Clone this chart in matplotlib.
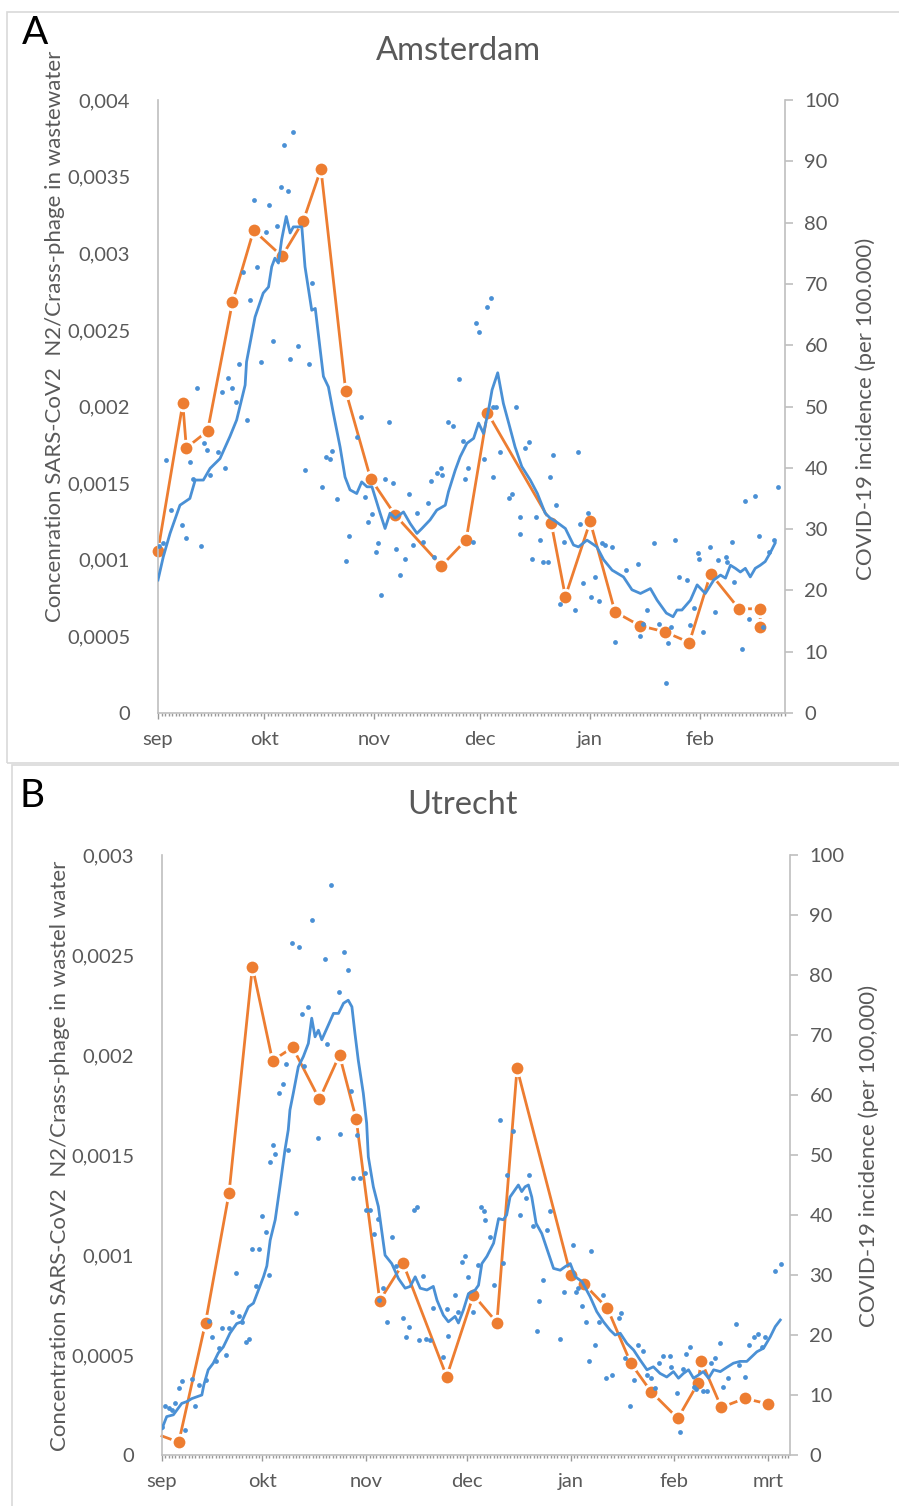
import matplotlib
matplotlib.use("Agg")
import matplotlib.pyplot as plt
from matplotlib.ticker import FuncFormatter, FixedLocator, MultipleLocator
from matplotlib.patches import Rectangle

plt.rcParams['font.family'] = ['Lato', 'DejaVu Sans']

# month starts (days since 1 sep)
month_pos = [0, 30, 61, 91, 122, 153, 181]
month_lab = ['sep', 'okt', 'nov', 'dec', 'jan', 'feb', 'mrt']

# ---- Amsterdam ----
ams_ww_day = [0, 7, 8, 14, 21, 27, 35, 41, 46, 53, 60, 67, 80, 87, 93, 111, 115,
              122, 129, 136, 143, 150, 156, 164, 170, 170]
ams_ww = [0.00106, 0.00202, 0.00173, 0.00184, 0.00268, 0.00315, 0.00298, 0.00321,
          0.00355, 0.00210, 0.00153, 0.00129, 0.00096, 0.00113, 0.00196, 0.00124,
          0.00076, 0.00125, 0.00066, 0.00057, 0.00053, 0.00046, 0.00091, 0.00068,
          0.00068, 0.00056]

ams_day = [0.3, 1.4, 2.2, 3.6, 6.7, 7.9, 9.0, 10.0, 11.1, 12.2, 13.0, 13.8, 14.7,
           16.9, 18.0, 19.0, 19.9, 21.0, 22.0, 23.0, 24.0, 25.0, 26.0, 27.0, 28.0,
           29.0, 30.4, 31.4, 32.6, 33.5, 34.7, 35.7, 36.8, 37.3, 38.2, 39.5, 41.6,
           42.7, 43.6, 46.2, 47.4, 48.6, 49.2, 50.5, 53.0, 54.0, 56.3, 57.3, 58.5,
           59.4, 60.4, 61.5, 62.0, 63.0, 64.0, 65.1, 66.2, 67.1, 68.4, 69.8, 70.9,
           71.9, 73.1, 74.9, 76.1, 77.1, 77.8, 78.7, 79.9, 80.1, 82.0, 83.4, 85.0,
           86.2, 86.7, 87.6, 88.9, 89.8, 90.7, 92.1, 92.8, 94.0, 94.5, 94.7, 95.5,
           96.6, 99.0, 100.0, 101.0, 102.1, 102.3, 103.5, 104.6, 105.6, 106.8,
           107.7, 108.7, 110.0, 110.7, 111.5, 112.4, 113.4, 114.5, 117.6, 118.6,
           119.2, 120.1, 121.3, 122.2, 123.4, 124.4, 125.3, 126.3, 128.2, 129.1,
           132.1, 135.4, 136.0, 136.9, 138.0, 140.1, 141.3, 143.3, 144.0, 144.9,
           146.0, 147.0, 149.2, 150.1, 151.2, 152.3, 152.6, 153.9, 155.9, 157.1,
           158.1, 160.3, 160.6, 161.9, 162.7, 164.9, 165.8, 166.9, 168.4, 169.6,
           170.7, 172.4, 173.8, 174.9]
ams_inc = [27.3, 27.7, 41.2, 33.1, 30.7, 28.5, 40.9, 38.2, 53.0, 27.3, 44.0, 42.9,
           38.9, 42.6, 52.3, 39.9, 54.6, 53.0, 50.8, 56.9, 71.9, 47.8, 67.4, 83.7,
           72.8, 57.2, 78.4, 82.8, 60.7, 79.4, 85.8, 92.7, 85.2, 57.7, 94.8, 59.9,
           39.6, 56.9, 70.1, 36.9, 41.8, 41.4, 42.7, 34.9, 24.8, 28.9, 45.1, 48.3,
           35.3, 31.2, 32.4, 26.2, 27.8, 19.2, 38.2, 47.5, 37.6, 26.7, 22.5, 25.2,
           35.8, 27.4, 32.7, 27.9, 34.3, 37.9, 25.5, 39.1, 40.0, 38.9, 47.5, 46.8,
           54.5, 44.4, 38.1, 39.9, 27.9, 63.6, 62.1, 41.4, 66.3, 67.7, 38.5, 50.0,
           50.0, 42.6, 35.0, 35.8, 50.0, 29.2, 31.9, 43.3, 44.2, 25.2, 31.9, 28.2,
           24.7, 24.7, 38.5, 42.1, 33.9, 17.8, 27.9, 16.8, 42.5, 30.9, 21.2, 32.7,
           18.9, 22.2, 18.3, 27.7, 27.4, 27.0, 11.6, 23.4, 24.3, 12.6, 14.6, 16.8,
           27.8, 14.6, 4.9, 11.4, 14.1, 28.2, 22.2, 21.7, 14.4, 17.1, 26.1, 25.2,
           13.2, 27.0, 16.5, 25.0, 25.5, 24.7, 27.9, 21.3, 10.4, 34.6, 15.3, 35.4,
           28.9, 14.1, 26.3, 28.3, 36.9]

ams_avg_day = [0, 1.5, 3.4, 6.2, 9.0, 10.5, 12.8, 14.7, 17.5, 20.3, 22.2, 24.6, 25.0,
               27.4, 29.7, 31.2, 32.1, 33.0, 34.0, 34.9, 36.2, 37.3, 38.2, 40.6,
               41.5, 43.4, 44.4, 45.8, 46.7, 48.1, 49.5, 51.4, 52.8, 54.2, 56.1,
               57.5, 59.0, 60.4, 62.7, 64.1, 65.5, 67.0, 69.3, 71.2, 73.1, 74.5,
               76.8, 78.7, 81.1, 82.0, 83.9, 85.3, 87.2, 89.1, 90.5, 91.9, 93.3,
               94.3, 95.9, 97.5, 99.0, 100.8, 102.7, 105.1, 107.1, 109.3, 110.7,
               112.4, 115.0, 117.3, 118.7, 121.1, 123.9, 125.8, 128.2, 131.4, 133.8,
               136.2, 139.0, 140.9, 143.5, 145.4, 146.5, 147.9, 150.3, 152.2, 154.5,
               156.9, 158.8, 160.2, 161.6, 163.0, 164.4, 165.8, 167.2, 168.6, 170.0,
               171.4, 172.8, 174.2]
ams_avg = [21.7, 25.5, 29.3, 33.9, 35.0, 38.0, 38.0, 39.9, 41.5, 45.1, 47.8, 53.5,
           57.3, 64.6, 68.5, 69.5, 72.8, 74.2, 73.4, 77.2, 81.0, 78.3, 79.3, 79.3,
           72.8, 65.7, 66.0, 59.2, 54.9, 53.2, 48.9, 43.4, 38.5, 36.4, 35.8, 37.7,
           36.9, 36.9, 32.6, 30.1, 32.6, 31.8, 32.8, 30.9, 29.3, 30.1, 31.5, 33.1,
           33.9, 36.1, 39.6, 41.8, 44.0, 44.8, 47.3, 45.6, 49.4, 52.7, 55.5, 50.5,
           47.3, 43.4, 40.2, 38.0, 35.8, 32.6, 31.8, 31.2, 30.1, 27.4, 27.1, 28.2,
           27.1, 25.0, 23.3, 22.2, 20.1, 19.5, 20.3, 18.4, 16.3, 15.7, 16.8, 16.8,
           18.4, 20.9, 19.5, 21.7, 22.5, 22.0, 24.1, 23.6, 23.0, 23.6, 22.2, 23.6,
           24.1, 24.7, 26.1, 27.7]

# ---- Utrecht ----
utr_ww_day = [0, 5, 13, 20, 27, 33, 39, 47, 53, 58, 65, 72, 85, 93, 100, 106, 122,
              126, 133, 140, 146, 154, 160, 161, 167, 174, 181]
utr_ww = [0.000095, 0.000064, 0.000662, 0.001308, 0.002442, 0.001972, 0.002038,
          0.001778, 0.002000, 0.001678, 0.000772, 0.000958, 0.000392, 0.000800,
          0.000662, 0.001933, 0.000900, 0.000855, 0.000733, 0.000458, 0.000317,
          0.000183, 0.000358, 0.000470, 0.000238, 0.000283, 0.000255]

utr_day = [0, 1, 2, 3, 4, 5, 6, 7, 9, 10, 11, 13, 14, 15, 16, 17, 18, 19, 20, 21,
           22, 23, 24, 25, 26, 27, 28, 29, 30, 31, 32, 32.3, 33.2, 33.8, 35.0, 36.0,
           37.0, 37.7, 38.7, 39.9, 41.0, 41.7, 42.4, 43.7, 44.9, 46.7, 48.7, 49.4,
           50.5, 52.7, 53.2, 54.4, 55.5, 56.5, 57.1, 58.2, 59.1, 60.6, 60.9, 62.1,
           63.3, 64.4, 64.8, 65.9, 67.1, 68.8, 69.8, 72.1, 72.8, 73.8, 75.1, 76.1,
           76.6, 77.9, 78.9, 80.0, 81.0, 83.8, 85.0, 85.5, 87.5, 88.5, 89.5, 90.5,
           91.5, 93.0, 94.2, 95.2, 96.0, 96.5, 98.0, 99.2, 101.0, 101.9, 103.0,
           104.7, 106.9, 108.6, 109.7, 110.9, 112.1, 112.7, 113.7, 114.9, 115.9,
           118.9, 119.9, 122.7, 123.7, 124.3, 125.4, 126.6, 127.6, 128.1, 129.3,
           130.5, 131.6, 132.6, 134.3, 136.3, 137.0, 138.3, 139.8, 140.8, 142.0,
           143.6, 144.8, 146.0, 147.3, 148.5, 149.7, 151.7, 152.0, 153.7, 154.7,
           155.7, 156.5, 157.5, 158.7, 159.5, 161.5, 162.7, 163.9, 165.2, 166.5,
           167.5, 169.1, 171.4, 172.4, 174.1, 175.4, 176.8, 177.8, 179.1, 180.1,
           183.1, 184.8]
utr_inc = [4.7, 8.1, 7.8, 7.5, 8.6, 11.1, 12.4, 4.2, 12.6, 8.2, 11.7, 12.5, 22.4,
           19.6, 15.6, 17.8, 21.1, 16.7, 21.1, 23.9, 30.4, 23.1, 22.1, 18.9, 19.3,
           34.4, 28.1, 34.4, 39.8, 37.2, 30.0, 48.8, 51.7, 50.2, 60.3, 61.8, 65.2,
           50.9, 85.4, 40.3, 84.6, 73.5, 64.8, 74.7, 89.1, 52.9, 82.7, 68.5, 95.0,
           77.1, 53.5, 83.9, 80.8, 60.6, 46.1, 53.3, 46.1, 47.0, 40.8, 40.8, 36.8,
           39.4, 25.9, 27.9, 22.1, 36.3, 31.5, 22.8, 19.6, 21.4, 40.8, 41.4, 19.1,
           29.8, 19.3, 19.1, 24.5, 16.4, 24.3, 19.8, 26.7, 23.9, 32.2, 33.1, 29.7,
           23.9, 31.7, 41.3, 40.7, 39.1, 36.3, 28.3, 55.9, 32.0, 46.7, 54.0, 40.0,
           42.8, 46.7, 38.2, 20.6, 25.7, 29.2, 37.5, 40.6, 19.3, 27.2, 35.0, 27.2,
           27.8, 24.8, 22.1, 15.6, 34.0, 18.3, 22.1, 26.7, 12.8, 13.3, 22.8, 23.6,
           16.1, 8.2, 12.5, 18.3, 17.4, 13.3, 12.8, 11.1, 15.3, 16.5, 16.5, 14.6,
           10.3, 3.9, 14.3, 16.8, 18.0, 11.4, 11.0, 10.7, 10.7, 15.4, 16.1, 18.7,
           11.3, 12.8, 21.8, 15.0, 13.0, 18.3, 19.7, 20.2, 18.0, 19.7, 30.7, 31.9]

utr_avg_day = [0, 1.4, 3.4, 5.9, 7.4, 8.9, 10.4, 11.9, 12.5, 13.8, 15.3, 16.8, 18.3,
               20.3, 22.3, 23.8, 25.8, 27.3, 28.8, 30.3, 31.3, 32.3, 33.8, 35.2,
               36.7, 37.7, 38.2, 39.2, 40.7, 42.2, 43.7, 44.7, 45.7, 46.7, 47.7,
               49.7, 51.2, 52.7, 54.2, 55.6, 56.7, 57.6, 58.6, 60.1, 61.1, 61.6,
               63.1, 64.6, 66.6, 68.6, 70.6, 72.6, 74.1, 75.6, 77.1, 79.1, 81.0,
               82.1, 84.0, 85.5, 87.5, 88.5, 90.0, 91.5, 93.5, 94.5, 95.5, 97.0,
               99.0, 100.5, 101.9, 102.9, 103.9, 105.4, 106.4, 107.4, 108.4, 109.4,
               110.4, 111.7, 113.4, 114.9, 116.9, 118.9, 120.4, 121.9, 123.4, 125.4,
               127.8, 129.8, 131.8, 133.8, 135.3, 136.8, 138.8, 140.8, 142.8, 144.8,
               146.7, 148.7, 150.7, 152.7, 154.2, 155.7, 157.2, 158.7, 160.1, 161.6,
               163.2, 164.7, 166.7, 168.6, 170.6, 172.6, 174.6, 176.1, 177.6, 179.6,
               181.6, 183.1, 184.6]
utr_avg = [4.4, 6.4, 6.7, 8.6, 8.9, 9.4, 9.7, 10.0, 11.7, 14.2, 15.3, 17.0, 18.0,
           20.3, 21.9, 22.2, 24.7, 25.3, 27.5, 29.7, 31.5, 35.8, 39.2, 44.7, 50.8,
           54.2, 57.5, 60.3, 64.7, 66.4, 68.6, 72.8, 69.7, 70.8, 69.2, 71.7, 73.6,
           73.6, 75.3, 75.8, 74.7, 70.3, 65.8, 60.3, 55.3, 49.7, 44.7, 41.4, 33.3,
           31.9, 29.4, 27.8, 28.1, 29.7, 27.8, 27.5, 28.1, 25.8, 23.3, 22.2, 23.1,
           22.0, 24.2, 26.9, 27.5, 28.3, 31.9, 33.1, 35.3, 39.4, 39.2, 40.0, 43.0,
           44.2, 45.0, 43.9, 44.7, 45.0, 43.0, 38.6, 36.9, 34.4, 31.1, 30.8, 31.4,
           31.9, 29.7, 28.9, 26.4, 23.9, 22.2, 20.8, 20.0, 20.3, 18.6, 17.5, 15.8,
           14.2, 14.7, 13.6, 13.0, 13.9, 12.8, 13.6, 14.2, 12.8, 13.3, 13.9, 12.8,
           14.2, 13.9, 14.6, 15.3, 15.6, 15.6, 16.4, 17.2, 17.8, 19.7, 21.4, 22.5]

ORANGE = '#ED7D31'
BLUE = '#4A90D5'
GREY = '#595959'
SPINE = '#BFBFBF'

W, H = 899, 1506
fig = plt.figure(figsize=(W / 100, H / 100), dpi=100)


def fx(px):
    return px / W


def fy(py):
    return 1 - py / H


# panel frames
fig.patches.append(Rectangle((fx(7), fy(763)), fx(900), fy(12) - fy(763),
                             transform=fig.transFigure, fill=False,
                             edgecolor='#D9D9D9', lw=1.2))
fig.patches.append(Rectangle((fx(12), fy(1510)), fx(900), fy(765) - fy(1510),
                             transform=fig.transFigure, fill=False,
                             edgecolor='#D9D9D9', lw=1.2))

comma = FuncFormatter(lambda v, p: ('%g' % v).replace('.', ','))


def panel(box, xmax, ymax, ymajor, ww_day, ww, ww_mark, day, inc, avg_day, avg,
          ylab, rlab, title, letter, title_xy, letter_xy, ylab_xy, rlab_xy, nmonths):
    l, t, r, b = box
    ax = fig.add_axes([fx(l), fy(b), fx(r) - fx(l), fy(t) - fy(b)])
    ax2 = ax.twinx()
    ax.set_zorder(1)
    ax2.set_zorder(2)
    ax.patch.set_visible(False)
    ax2.patch.set_visible(False)

    ax.plot(ww_day, ww, color=ORANGE, lw=2.0, marker='o', ms=10.5,
            mfc=ORANGE, mec='white', mew=2.0, markevery=ww_mark, clip_on=False)
    ax2.plot(avg_day, avg, color=BLUE, lw=2.0)
    ax2.scatter(day, inc, s=12, color=BLUE, zorder=3, linewidths=0)

    ax.set_xlim(0, xmax)
    ax.set_ylim(0, ymax)
    ax2.set_ylim(0, 100)
    ax.yaxis.set_major_locator(MultipleLocator(ymajor))
    ax.yaxis.set_major_formatter(comma)
    ax2.yaxis.set_major_locator(MultipleLocator(10))

    ax.xaxis.set_major_locator(FixedLocator(month_pos[:nmonths]))
    ax.set_xticklabels(month_lab[:nmonths])
    ax.xaxis.set_minor_locator(MultipleLocator(1))

    for a in (ax, ax2):
        for s in a.spines.values():
            s.set_color(SPINE)
            s.set_linewidth(1.2)
        a.spines['top'].set_visible(False)
    ax.spines['right'].set_visible(False)
    ax2.spines['left'].set_visible(False)
    ax2.spines['bottom'].set_visible(False)

    ax.tick_params(axis='y', length=0, labelsize=14.5, labelcolor=GREY, pad=20)
    ax.tick_params(axis='x', which='major', length=4, color='#999999', width=1,
                   labelsize=14.5, labelcolor=GREY, pad=9)
    ax.tick_params(axis='x', which='minor', length=2.5, color='#999999', width=1)
    ax2.tick_params(axis='y', length=6, color=SPINE, width=1.2, labelsize=14.5,
                    labelcolor=GREY, pad=8)

    fig.text(fx(ylab_xy[0]), fy(ylab_xy[1]), ylab, rotation=90,
             ha='center', va='center', fontsize=16, color=GREY)
    fig.text(fx(rlab_xy[0]), fy(rlab_xy[1]), rlab, rotation=90,
             ha='center', va='center', fontsize=16, color=GREY)
    fig.text(fx(title_xy[0]), fy(title_xy[1]), title, ha='center', va='center',
             fontsize=23.5, color=GREY)
    fig.text(fx(letter_xy[0]), fy(letter_xy[1]), letter, ha='center', va='center',
             fontsize=28, color='black')


panel((158, 100, 785, 713), 177, 0.004, 0.0005, ams_ww_day, ams_ww,
      list(range(len(ams_ww))), ams_day, ams_inc, ams_avg_day, ams_avg,
      'Concenration SARS-CoV2  N2/Crass-phage in wastewater',
      'COVID-19 incidence (per 100.000)',
      'Amsterdam', 'A', (458, 51), (35, 33), (55, 336), (866, 409), 6)

panel((162, 855, 790, 1455), 187.5, 0.003, 0.0005, utr_ww_day, utr_ww,
      list(range(1, len(utr_ww))), utr_day, utr_inc, utr_avg_day, utr_avg,
      'Concentration SARS-CoV2  N2/Crass-phage in wastel water',
      'COVID-19 incidence (per 100,000)',
      'Utrecht', 'B', (462, 805), (32, 796), (60, 1156), (869, 1156), 7)

fig.savefig('out.png', dpi=100)
